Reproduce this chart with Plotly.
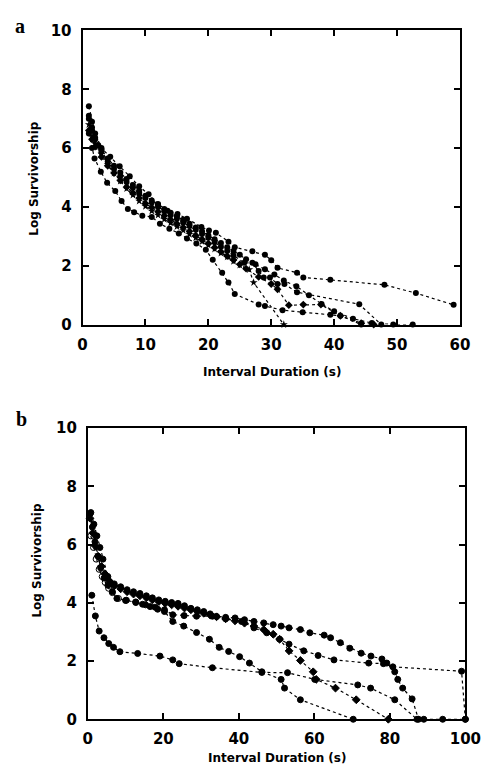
import plotly.graph_objects as go

# ---------------- Panel a data ----------------
a1_t = [1, 1.5, 2, 3, 4.4, 5.9, 7.5, 9, 10.5, 12, 13.5, 15.1, 16.6, 18.9, 20.1, 21.2, 23.2, 24.2, 27, 29, 30, 31, 34.1, 35.1, 39.4, 48, 53, 59]
a1_v = [7.42, 6.9, 6.5, 6.0, 5.71, 5.38, 5.04, 4.7, 4.43, 4.1, 3.87, 3.76, 3.6, 3.32, 3.2, 3.12, 2.82, 2.63, 2.49, 2.37, 2.19, 1.93, 1.76, 1.6, 1.52, 1.35, 1.07, 0.67]

a2_t = [1, 1.5, 2, 2.5, 3, 4, 5, 6, 7, 8, 9, 10, 11, 12, 13, 14, 15, 16, 17, 18, 19, 20, 21, 22, 23, 24, 25.7, 27, 28, 28.8, 29.8, 31, 32.1, 34.1, 44, 47.5]
a2_v = [7.1, 6.7, 6.35, 6.1, 5.9, 5.55, 5.3, 5.05, 4.85, 4.65, 4.45, 4.3, 4.15, 4.0, 3.85, 3.72, 3.6, 3.47, 3.35, 3.22, 3.08, 2.95, 2.8, 2.65, 2.5, 2.35, 2.1, 2.1, 1.82, 1.6, 1.6, 1.38, 1.38, 1.1, 0.69, 0]

a3_t = [1, 1.5, 2, 3, 4, 5, 6, 7, 8, 9, 10, 11, 12, 13, 14, 15, 16, 17, 18, 19, 20, 21, 22, 23, 24, 25, 26, 28, 30, 31, 32.8, 35.1, 37.9, 41, 44.3, 46.3]
a3_v = [6.6, 6.3, 6.05, 5.7, 5.4, 5.15, 4.9, 4.68, 4.48, 4.3, 4.12, 3.98, 3.84, 3.7, 3.56, 3.43, 3.3, 3.17, 3.03, 2.9, 2.76, 2.62, 2.48, 2.33, 2.2, 2.05, 1.9, 1.62, 1.38, 1.2, 0.66, 0.68, 0.68, 0.3, 0.05, 0]

a4_t = [1, 1.5, 1.9, 2.9, 3.9, 5.2, 6.2, 7.2, 8.2, 9.5, 11, 12.3, 13.8, 15.3, 16.6, 18.1, 19.6, 20.7, 22.2, 23.2, 24.2, 28, 29, 31.8, 35, 39.4, 41, 44.3]
a4_v = [6.5, 6.0, 5.65, 5.2, 4.82, 4.54, 4.2, 3.93, 3.82, 3.7, 3.66, 3.43, 3.26, 3.1, 2.93, 2.76, 2.54, 2.2, 1.76, 1.43, 1.04, 0.68, 0.63, 0.49, 0.42, 0.33, 0.3, 0]

a5_t = [1, 1.5, 2, 3, 4, 5, 6, 7, 8, 9, 10, 11, 12, 13, 14, 15, 16, 17, 18, 19, 20, 21, 22, 23, 24, 25, 26.5, 27.2, 32]
a5_v = [6.8, 6.4, 6.15, 5.8, 5.45, 5.15, 4.88, 4.62, 4.4, 4.2, 4.02, 3.86, 3.72, 3.58, 3.45, 3.33, 3.2, 3.07, 2.95, 2.82, 2.7, 2.57, 2.43, 2.3, 2.15, 2.02, 1.87, 1.43, 0]

a6_t = [1, 1.5, 2, 3, 4, 5, 6, 7, 8, 9, 10, 11, 12, 13, 14, 15, 16, 17, 18, 19, 20, 21, 22, 23, 24, 25, 26, 27.5, 29, 30.5, 32, 34, 36, 38, 40, 43, 46, 49.4, 52.5]
a6_v = [7.0, 6.6, 6.3, 5.95, 5.65, 5.4, 5.17, 4.95, 4.75, 4.55, 4.38, 4.22, 4.07, 3.93, 3.8, 3.68, 3.56, 3.43, 3.3, 3.17, 3.04, 2.9, 2.77, 2.63, 2.5, 2.37, 2.22, 2.05, 1.88, 1.7, 1.5, 1.3, 1.0, 0.7, 0.45, 0.2, 0.05, 0, 0]

# ---------------- Panel b data ----------------
b1_t = [1.06, 1.99, 3.0, 4.27, 5.54, 6.8, 8.5, 13.2, 19.1, 22.5, 24.2, 33.0, 46.1, 52.9, 60.1, 71.5, 74.9, 81.3, 87.2, 89, 94, 100]
b1_v = [4.26, 3.55, 3.03, 2.8, 2.6, 2.47, 2.32, 2.26, 2.17, 2.04, 1.91, 1.77, 1.61, 1.6, 1.37, 1.18, 1.07, 0.67, 0, 0, 0, 0]

b2_t = [0.8, 1.5, 2.2, 3.0, 3.8, 4.6, 5.5, 6.5, 8.1, 10, 12.7, 14.5, 16.5, 18.5, 20.3, 22.5, 25.4, 28.8, 32.2, 34.8, 37.3, 40.2, 42.8, 46.1, 51.2, 52.1, 56.3, 70.3]
b2_v = [6.3, 5.9, 5.5, 5.15, 4.9, 4.7, 4.5, 4.35, 4.15, 4.08, 4.03, 3.95, 3.87, 3.78, 3.7, 3.36, 3.2, 2.98, 2.75, 2.47, 2.33, 2.15, 1.93, 1.63, 1.37, 1.07, 0.67, 0]

b3_t = [0.6, 1.2, 1.9, 2.7, 3.4, 4.3, 5.3, 6.5, 7.7, 10.2, 12.7, 15.3, 17.8, 20.3, 22.5, 25.5, 28.8, 33, 36.5, 40.7, 44, 47.4, 50.8, 53.3, 57.2, 61, 65.2, 74.4, 78.3, 80.8, 99, 100]
b3_v = [7.06, 6.6, 6.1, 5.6, 5.2, 4.85, 4.6, 4.38, 4.15, 4.09, 4.01, 3.93, 3.85, 3.76, 3.59, 3.56, 3.54, 3.54, 3.45, 3.36, 3.14, 2.97, 2.75, 2.58, 2.35, 2.19, 2.04, 1.93, 1.91, 1.8, 1.65, 0]

b4_t = [0.6, 1.3, 2.0, 2.7, 3.6, 4.5, 5.3, 6.2, 7.0, 8.7, 10.4, 12.1, 13.8, 15.5, 17.1, 18.8, 20.5, 22.2, 23.9, 25.6, 27.3, 29, 30.7, 32.4, 34.1, 36.5, 39, 41.5, 44, 46.6, 49.1, 50.8, 53.3, 56.3, 59.7, 60.5, 65.6, 71.1, 79.6]
b4_v = [6.9, 6.4, 5.95, 5.6, 5.25, 5.0, 4.8, 4.68, 4.58, 4.48, 4.38, 4.3, 4.24, 4.17, 4.1, 4.04, 3.98, 3.93, 3.88, 3.82, 3.76, 3.7, 3.64, 3.58, 3.52, 3.45, 3.38, 3.3, 3.2, 3.08, 2.92, 2.75, 2.35, 2.02, 1.63, 1.37, 1.07, 0.67, 0]

b5_t = [0.8, 1.6, 2.4, 3.2, 4.0, 5.3, 7.0, 8.7, 10.4, 12.1, 13.8, 15.5, 17.1, 18.8, 20.5, 22.2, 23.9, 25.6, 27.3, 29, 30.7, 32.4, 34.1, 36.5, 39, 41.5, 44, 46.6, 49.1, 51.2, 53.3, 56.3, 58.8, 62.6, 64.3, 66.9, 69.4, 72.4, 75, 77.9, 79.2, 81.3, 82.1, 83.4, 85.9, 87.6]
b5_v = [7.1, 6.7, 6.3, 5.9, 5.5, 4.9, 4.65, 4.55, 4.45, 4.38, 4.32, 4.24, 4.17, 4.1, 4.05, 4.01, 3.98, 3.9, 3.81, 3.76, 3.7, 3.62, 3.53, 3.5, 3.48, 3.42, 3.36, 3.31, 3.25, 3.2, 3.14, 3.08, 2.97, 2.89, 2.8, 2.63, 2.44, 2.27, 2.17, 2.07, 1.93, 1.63, 1.37, 1.07, 0.7, 0]

a_x_ticks = [0, 10, 20, 30, 40, 50, 60]
b_x_ticks = [0, 20, 40, 60, 80, 100]
y_ticks = [0, 2, 4, 6, 8, 10]

W, H = 496, 782

def px_x(p):
    return p / W

def px_y(p):
    return 1 - p / H

fig = go.Figure()

series_a = [(a1_t, a1_v, "circle"), (a2_t, a2_v, "circle"), (a3_t, a3_v, "diamond"),
            (a4_t, a4_v, "circle"), (a5_t, a5_v, "star"), (a6_t, a6_v, "circle")]
series_b = [(b1_t, b1_v, "circle"), (b2_t, b2_v, "circle"), (b3_t, b3_v, "circle"),
            (b4_t, b4_v, "diamond"), (b5_t, b5_v, "circle")]

for t, v, sym in series_a:
    fig.add_trace(go.Scatter(x=t, y=v, mode="lines+markers", xaxis="x", yaxis="y",
                             line=dict(color="black", width=1.2, dash="dot"),
                             marker=dict(color="black", size=6, symbol=sym),
                             cliponaxis=False, showlegend=False))

for i, (t, v, sym) in enumerate(series_b):
    symbols = sym
    if i == 1:
        symbols = ["circle-open" if tt < 9 else "circle" for tt in t]
    fig.add_trace(go.Scatter(x=t, y=v, mode="lines+markers", xaxis="x2", yaxis="y2",
                             line=dict(color="black", width=1.2, dash="dot"),
                             marker=dict(color="black", size=6, symbol=symbols,
                                         line=dict(color="black", width=1)),
                             cliponaxis=False, showlegend=False))

tickfont = dict(family="DejaVu Sans", size=15, color="black", weight="bold")
common = dict(showgrid=False, zeroline=False, showline=True, linecolor="black", linewidth=2,
              mirror="allticks", ticks="inside", ticklen=6, tickwidth=1.5, tickcolor="black",
              tickfont=tickfont)

fig.update_layout(
    width=W, height=H, margin=dict(l=0, r=0, t=0, b=0),
    paper_bgcolor="white", plot_bgcolor="white",
    xaxis=dict(domain=[px_x(81), px_x(475)], range=[0, 60], tickvals=a_x_ticks,
               anchor="y", ticklabelstandoff=5, **common),
    yaxis=dict(domain=[px_y(323), px_y(22)], range=[0, 10], tickvals=y_ticks,
               anchor="x", ticklabelstandoff=6, **common),
    xaxis2=dict(domain=[px_x(86.5), px_x(480.7)], range=[0, 100], tickvals=b_x_ticks,
                anchor="y2", ticklabelstandoff=5, **common),
    yaxis2=dict(domain=[px_y(727), px_y(429)], range=[0, 10], tickvals=y_ticks,
                anchor="x2", ticklabelstandoff=6, **common),
)

titlefont = dict(family="DejaVu Sans", size=12, color="black", weight="bold")
letterfont = dict(family="Liberation Serif", size=20, color="black", weight="bold")

def ann(text, x, y, font, angle=0):
    return dict(text=text, x=px_x(x), y=px_y(y), xref="paper", yref="paper",
                xanchor="center", yanchor="middle", showarrow=False,
                textangle=angle, font=font)

annotations = [
    ann("a", 16, 17, letterfont),
    ann("b", 17, 420, letterfont),
    ann("Interval Duration (s)", 279, 372, titlefont),
    ann("Interval Duration (s)", 284, 767, titlefont),
    ann("Log Survivorship", 30, 174, titlefont, -90),
    ann("Log Survivorship", 33, 565, titlefont, -90),
]
fig.update_layout(annotations=annotations)

fig.write_html("out.html")
